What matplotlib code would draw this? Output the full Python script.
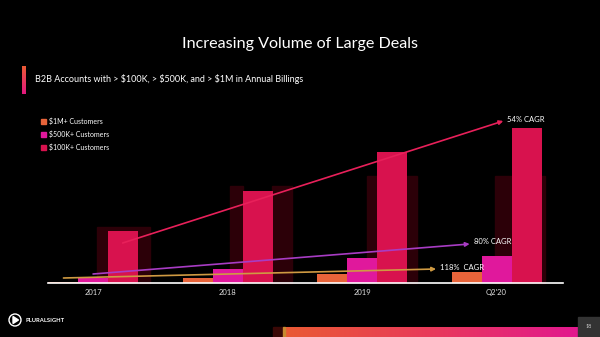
import numpy as np
import matplotlib.pyplot as plt
from matplotlib.colors import LinearSegmentedColormap

plt.rcParams['font.family'] = ['Lato', 'DejaVu Sans']

# account counts per period (bar heights)
periods = ["2017", "2018", "2019", "Q2'20"]
cust_1m = [1, 5, 9, 11]
cust_500k = [5, 14, 25, 27]
cust_100k = [52, 92, 131, 155]

series_names = ["$1M+ Customers", "$500K+ Customers", "$100K+ Customers"]
series_colors = ["#e8643a", "#e0189c", "#d8124e"]

# growth arrows: (start x, start y, end x, end y, label)
cagr_labels = ["54% CAGR", "80% CAGR", "118%  CAGR"]
cagr_lines = [
    (0.22, 40, 3.05, 162),
    (0.0, 9, 2.80, 39),
    (-0.22, 5, 2.55, 14),
]
cagr_colors = ["#e8205a", "#a83cc4", "#cf9a42"]

bg = "black"
fig = plt.figure(figsize=(6, 3.37), dpi=100, facecolor=bg)

# decoration layer in pixel coordinates
deco = fig.add_axes([0, 0, 1, 1])
deco.axis("off")
deco.set_facecolor(bg)

grad_v = LinearSegmentedColormap.from_list("v", ["#ea5a34", "#e2187e"])
grad_h = LinearSegmentedColormap.from_list("h", ["#ea5a34", "#e83a5a", "#e2188e"])

deco.text(300, 44, "Increasing Volume of Large Deals", color="white",
          fontsize=11.6, ha="center", va="center")
deco.imshow(np.linspace(0, 1, 50).reshape(-1, 1), cmap=grad_v, aspect="auto",
            extent=(22, 26, 94, 66))
deco.text(35, 79, "B2B Accounts with > $100K, > $500K, and > $1M in Annual Billings",
          color="white", fontsize=6.5, va="center")

# legend
for k, (name, col) in enumerate(zip(series_names, series_colors)):
    yk = 121 + k * 13
    deco.add_patch(plt.Rectangle((41, yk - 2.5), 5, 5, color=col))
    deco.text(49, yk, name, color="white", fontsize=5, va="center")

# faint slide-transition shadows behind the bars
shadows = [(97, 227, 53, 56), (230, 186, 13, 97), (272, 186, 20, 97),
           (367, 176, 50, 107), (495, 176, 50, 107)]
for sx, sy, sw, sh in shadows:
    deco.add_patch(plt.Rectangle((sx, sy), sw, sh, color="#2c0008", zorder=0))

# footer
deco.add_patch(plt.Rectangle((273, 327), 10, 10, color="#3a0806"))
deco.imshow(np.linspace(0, 1, 100).reshape(1, -1), cmap=grad_h, aspect="auto",
            extent=(283, 578, 337, 327))
deco.add_patch(plt.Rectangle((283, 327), 2, 10, color="#c88a30"))
deco.add_patch(plt.Rectangle((578, 317), 22, 20, color="#333333"))
deco.text(589, 327, "18", color="#cccccc", fontsize=4, ha="center", va="center")
deco.add_patch(plt.Circle((15, 320), 6, fill=False, ec="white", lw=1.0))
deco.add_patch(plt.Polygon([(13, 316.5), (13, 323.5), (18.5, 320)], color="white"))
deco.text(25, 320.5, "PLURALSIGHT", color="white", fontsize=4.2,
          fontweight="bold", va="center")
deco.set_xlim(0, 600)
deco.set_ylim(337, 0)

# chart
ax = fig.add_axes([48 / 600, 54 / 337, 515 / 600, 183 / 337])
ax.set_facecolor("none")
x = np.arange(len(periods))
w = 0.223
ax.bar(x - w, cust_1m, w, color=series_colors[0], zorder=2)
ax.bar(x, cust_500k, w, color=series_colors[1], zorder=2)
ax.bar(x + w, cust_100k, w, color=series_colors[2], zorder=2)

for (x0, y0, x1, y1), lab, col in zip(cagr_lines, cagr_labels, cagr_colors):
    ax.annotate("", xy=(x1, y1), xytext=(x0, y0),
                arrowprops=dict(arrowstyle="-|>", color=col, lw=1.2,
                                mutation_scale=6, shrinkA=0, shrinkB=0),
                zorder=3)
    ax.text(x1 + 0.03, y1 + 2, lab, color="white", fontsize=5.5, va="center",
            zorder=4)

ax.set_xlim(-0.335, 3.494)
ax.set_ylim(0, 183)
ax.set_xticks(x)
ax.set_xticklabels(periods, color="#dddddd", fontsize=5.5)
ax.tick_params(axis="x", length=0, pad=4)
ax.set_yticks([])
for side in ["top", "left", "right"]:
    ax.spines[side].set_visible(False)
ax.spines["bottom"].set_color("white")
ax.spines["bottom"].set_linewidth(1.2)

fig.savefig("out.png", dpi=100, facecolor=bg)
